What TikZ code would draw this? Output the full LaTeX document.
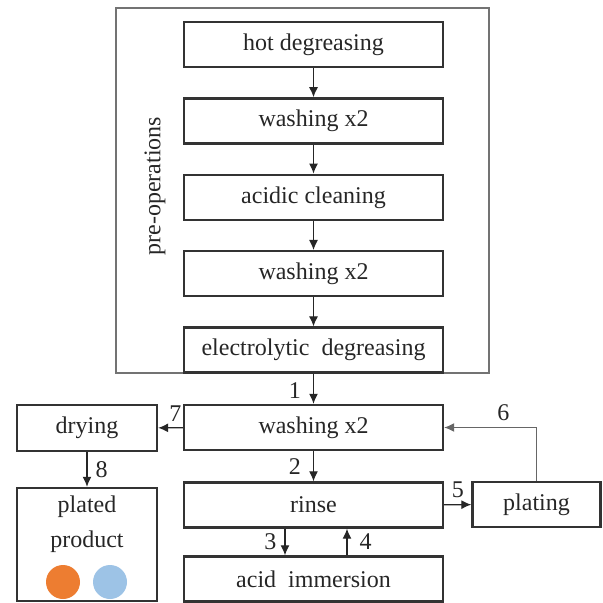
\documentclass[tikz,border=0pt]{standalone}
\usepackage{fontspec}
\setmainfont{Liberation Serif}
\usepackage{xcolor}
\usetikzlibrary{arrows.meta,positioning}

\definecolor{dotorange}{RGB}{237,125,49}
\definecolor{dotblue}{RGB}{157,195,230}

\begin{document}
\begin{tikzpicture}[x=0.5pt,y=-0.5pt,>={Latex[length=5pt,width=4.5pt]},
	box/.style={draw=black!80,line width=1.2pt,minimum width=129.5pt,minimum height=22.5pt,inner sep=0pt,text=black!85,font=\fontsize{12}{14}\selectfont},
	flow/.style={->,line width=0.6pt,draw=black!85},
	num/.style={text=black!85,font=\fontsize{12}{14}\selectfont,inner sep=1pt},
	node distance=14.5pt]
			\useasboundingbox (0,0) rectangle (602,603);
			
			% pre-operations
			\draw[black!55,line width=0.6pt] (116,8) rectangle (489,373);
			\node[num,rotate=90] (preop) at (155,186) {pre-operations};
			
			\node[box] (hot) at (313.5,44.5) {hot degreasing};
			\node[box,below=of hot] (washa) {washing x2};
			\node[box,below=of washa] (acidic) {acidic cleaning};
			\node[box,below=of acidic] (washb) {washing x2};
			\node[box,below=of washb] (electro) {electrolytic\ \ degreasing};
			
			\draw[flow] (hot) -- (washa);
			\draw[flow] (washa) -- (acidic);
			\draw[flow] (acidic) -- (washb);
			\draw[flow] (washb) -- (electro);
			
			% plating line
			\node[box] (washing) at (313.5,427.5) {washing x2};
			\node[box] (rinse) at (313.5,505) {rinse};
			\node[box] (acidimm) at (313.5,579) {acid\ \ immersion};
			\node[box,minimum width=64pt] (plating) at (536.5,504.5) {plating};
			\node[box,minimum width=70pt,minimum height=23pt] (drying) at (87,428) {drying};
			\node[box,minimum width=70pt,minimum height=56.5pt] (product) at (87,544.5) {};
			\node[num,align=center,font=\fontsize{12}{17.5}\selectfont] (prodtext) at (87,524) {plated\\product};
			
			\fill[dotorange] (63,582) circle (8.5pt);
			\fill[dotblue] (110,582) circle (8.5pt);
			
			\draw[flow] (electro) -- node[num,left=5pt,pos=0.55]{1} (washing);
			\draw[flow] (washing) -- node[num,left=5pt]{2} (rinse);
			\draw[flow] ([xshift=-14.25pt]rinse.south) -- node[num,left=3pt]{3} ([xshift=-14.25pt]acidimm.north);
			\draw[flow] ([xshift=16.75pt]acidimm.north) -- node[num,right=5pt]{4} ([xshift=16.75pt]rinse.south);
			\draw[flow] (rinse) -- node[num,above=2pt]{5} (plating);
			\draw[flow,draw=black!60] (plating) |- node[num,above=2pt,pos=0.68]{6} (washing);
			\draw[flow] (washing) -- node[num,above=2pt,pos=0.3]{7} (drying);
			\draw[flow] (drying) -- node[num,right=3pt]{8} (product);
		\end{tikzpicture}
\end{document}
